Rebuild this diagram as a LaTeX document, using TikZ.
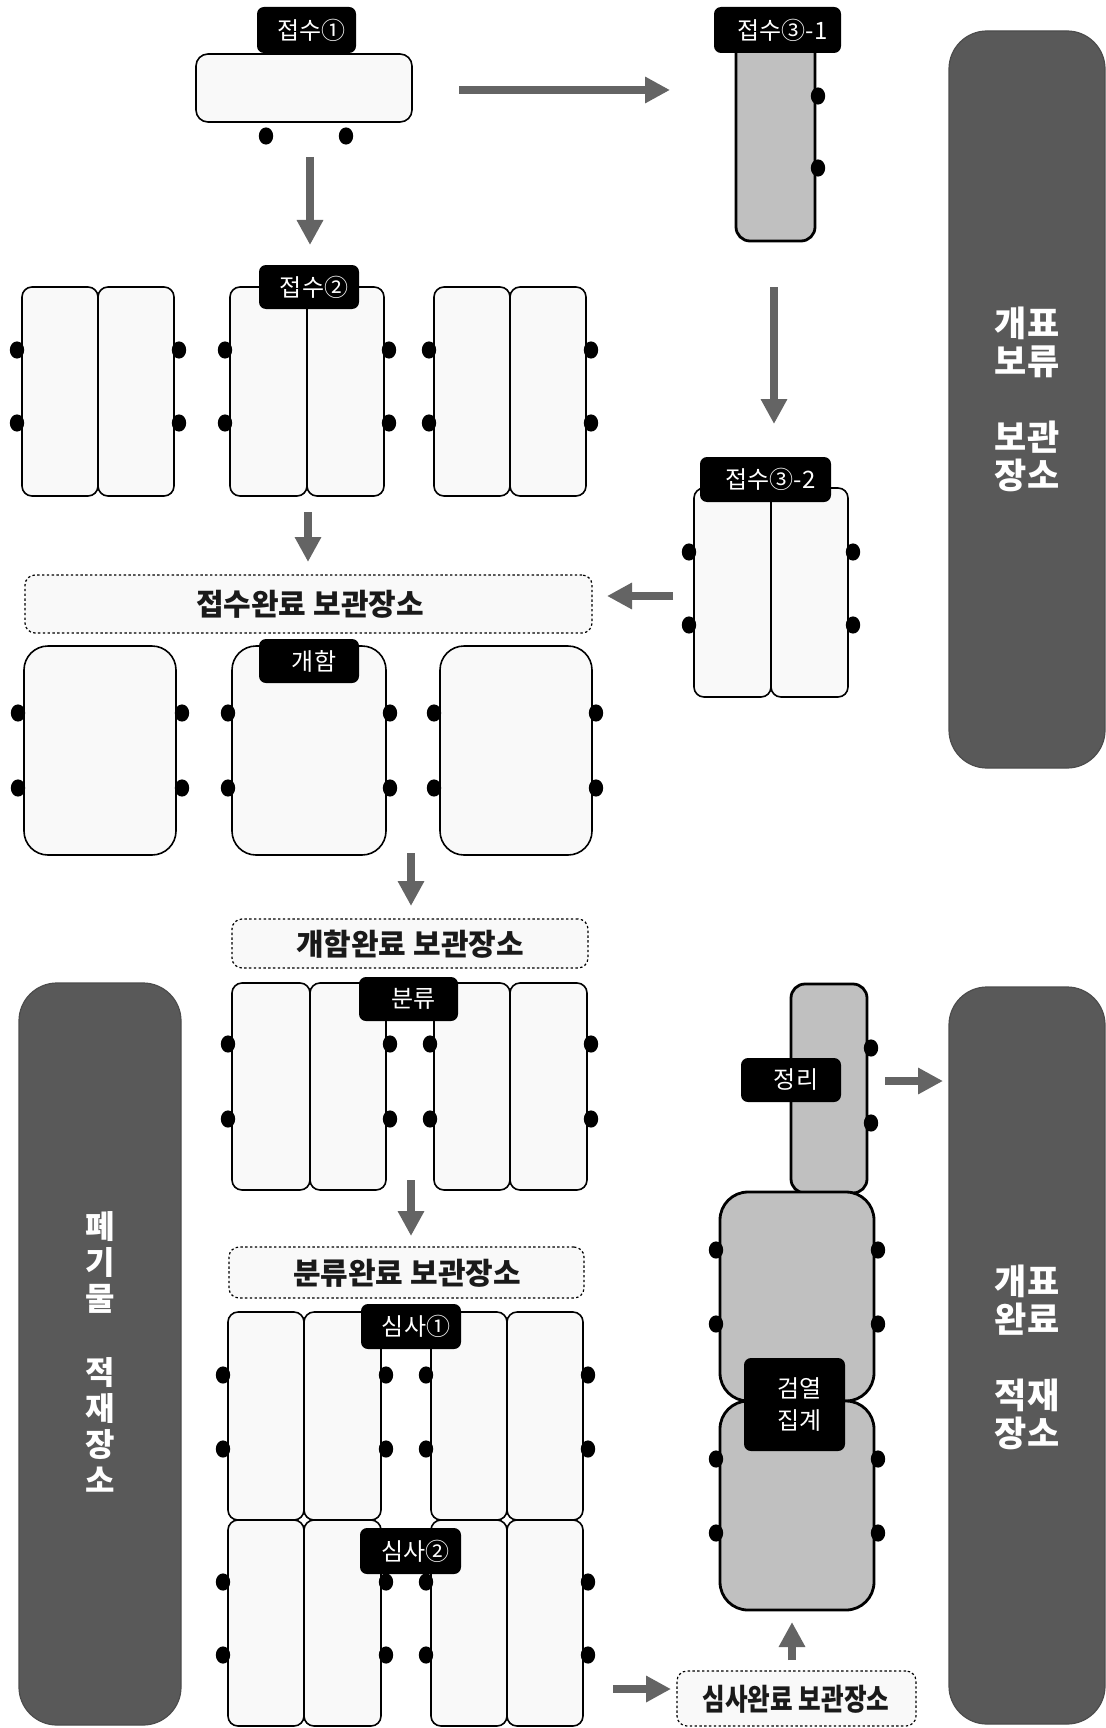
\documentclass[tikz,border=0pt]{standalone}
\usepackage{fontspec}
\setmainfont{Noto Sans CJK KR}
\usepackage{graphicx}
\usetikzlibrary{arrows.meta,fit}
\definecolor{lightfill}{HTML}{F9F9F9}
\definecolor{grayfill}{HTML}{C0C0C0}
\definecolor{darkfill}{HTML}{595959}
\definecolor{arrowgray}{HTML}{646464}
\definecolor{txtdark}{HTML}{1A1A1A}
\tikzset{
 lbox/.style={inner sep=0pt, draw=black, line width=0.8pt, fill=lightfill, rounded corners=5pt},
 lboxr/.style={lbox, rounded corners=12pt},
 gbox/.style={inner sep=0pt, draw=black, line width=1.4pt, fill=grayfill, rounded corners=7pt},
 gboxr/.style={gbox, rounded corners=14pt},
 dbox/.style={inner sep=0pt, draw=black!70, line width=0.6pt, fill=darkfill, rounded corners=19pt},
 dotbox/.style={inner sep=0pt, draw=black, line width=0.6pt, dash pattern=on 1.2pt off 1.2pt, fill=lightfill, rounded corners=5pt},
 labbox/.style={inner sep=0pt, fill=black, rounded corners=3.5pt},
 labtxt/.style={text=white, font=\fontsize{12pt}{16pt}\selectfont, inner sep=0pt, align=center},
 bigtxt/.style={text=white, font=\fontsize{17.5pt}{19pt}\selectfont\bfseries, align=center, inner sep=0pt},
 wastetxt/.style={text=white, font=\fontsize{16pt}{18pt}\selectfont\bfseries, align=center, inner sep=0pt},
 stotxt/.style={text=txtdark, font=\fontsize{15pt}{17pt}\selectfont\bfseries, inner sep=0pt},
 garrow/.style={draw=arrowgray, line width=4pt, -{Triangle[width=12.5pt,length=12.5pt]}},
}
\newcommand\bx[6]{\node[#1, fit={(#3,#4) (#5,#6)}] (#2) {};}
\newcommand\lbl[6]{\node[labbox, fit={(#2,#3) (#4,#5)}] (#1) {};
  \node[labtxt, xshift=2.5pt] (#1t) at (#1.center) {#6};}
\newcommand\mydot[2]{\fill (#1,#2) ellipse [x radius=3.6pt, y radius=4.3pt];}
\begin{document}
\begin{tikzpicture}[x=0.5pt,y=-0.5pt]
\fill[white] (0,0) rectangle (1106,1728);
\useasboundingbox (0,0) rectangle (1106,1728);

% dark storage areas
\bx{dbox}{d1}{949}{31}{1105}{768}
\bx{dbox}{d2}{19}{983}{181}{1725}
\bx{dbox}{d3}{949}{987}{1105}{1724}
\node[bigtxt] (d1t) at (1027,399) {개표\\보류\\[19pt]보관\\장소};
\node[wastetxt] (d2t) at (100,1352) {폐\\기\\물\\[19pt]적\\재\\장\\소};
\node[bigtxt] (d3t) at (1027,1357) {개표\\완료\\[19pt]적재\\장소};

% top
\bx{lbox, rounded corners=6pt}{r1}{196}{54}{412}{122}
\bx{gbox}{r31}{736}{30}{815}{241}
\mydot{266}{136}\mydot{346}{136}
\mydot{818}{96}\mydot{818}{168}

% 접수2 row
\bx{lbox}{p1a}{22}{287}{98}{496}\bx{lbox}{p1b}{98}{287}{174}{496}
\bx{lbox}{p2a}{230}{287}{307}{496}\bx{lbox}{p2b}{307}{287}{384}{496}
\bx{lbox}{p3a}{434}{287}{510}{496}\bx{lbox}{p3b}{510}{287}{586}{496}
\foreach \yy in {350,423}{\foreach \xx in {17,179,225,389,429,591}{\mydot{\xx}{\yy}}}

% 접수3-2
\bx{lbox}{q1}{694}{488}{771}{697}\bx{lbox}{q2}{771}{488}{848}{697}
\foreach \yy in {552,625}{\foreach \xx in {689,853}{\mydot{\xx}{\yy}}}

% 접수완료
\bx{dotbox}{s1}{25}{575}{592}{633}
\node[stotxt] (s1t) at (310,604) {접수완료 보관장소};

% 개함
\bx{lboxr}{k1}{24}{646}{176}{855}
\bx{lboxr}{k2}{232}{646}{386}{855}
\bx{lboxr}{k3}{440}{646}{592}{855}
\foreach \yy in {713,788}{\foreach \xx in {18,182,228,390,434,596}{\mydot{\xx}{\yy}}}

% 개함완료
\bx{dotbox}{s2}{232}{919}{588}{968}
\node[stotxt] (s2t) at (410,944) {개함완료 보관장소};

% 분류
\bx{lbox}{b1}{232}{983}{310}{1190}\bx{lbox}{b2}{310}{983}{386}{1190}
\bx{lbox}{b3}{434}{983}{510}{1190}\bx{lbox}{b4}{510}{983}{587}{1190}
\foreach \yy in {1044,1119}{\foreach \xx in {228,390,430,591}{\mydot{\xx}{\yy}}}

% 분류완료
\bx{dotbox}{s3}{229}{1247}{584}{1298}
\node[stotxt] (s3t) at (407,1273) {분류완료 보관장소};

% 심사1, 심사2
\bx{lbox}{c1}{228}{1312}{304}{1520}\bx{lbox}{c2}{304}{1312}{381}{1520}
\bx{lbox}{c3}{431}{1312}{507}{1520}\bx{lbox}{c4}{507}{1312}{583}{1520}
\bx{lbox}{e1}{228}{1520}{304}{1726}\bx{lbox}{e2}{304}{1520}{381}{1726}
\bx{lbox}{e3}{431}{1520}{507}{1726}\bx{lbox}{e4}{507}{1520}{583}{1726}
\foreach \yy in {1375,1449,1582,1655}{\foreach \xx in {223,386,426,588}{\mydot{\xx}{\yy}}}

% 심사완료
\bx{dotbox}{s4}{677}{1671}{916}{1726}
\node[stotxt] (s4t) at (796,1699) {\scalebox{0.82}[1]{심사완료 보관장소}};

% right column (정리, 검열)
\bx{gbox}{g0}{791}{984}{867}{1193}
\bx{gboxr}{g1}{720}{1192}{874}{1401}
\bx{gboxr}{g2}{720}{1401}{874}{1610}
\mydot{871}{1048}\mydot{871}{1123}
\foreach \yy in {1250,1324,1459,1533}{\foreach \xx in {716,878}{\mydot{\xx}{\yy}}}

% labels
\lbl{l1}{257}{7}{356}{53}{접수①}
\lbl{l31}{714}{7}{841}{53}{접수③-1}
\lbl{l2}{259}{265}{359}{309}{접수②}
\lbl{l32}{700}{457}{831}{502}{접수③-2}
\lbl{lk}{259}{639}{359}{683}{개함}
\lbl{lb}{359}{977}{458}{1021}{분류}
\lbl{lc1}{361}{1304}{461}{1349}{심사①}
\lbl{lc2}{360}{1528}{461}{1574}{심사②}
\lbl{lj}{741}{1058}{841}{1102}{정리}
\lbl{lg}{744}{1358}{845}{1451}{검열\\집계}

% arrows
\coordinate (a1s) at (310,157); \coordinate (a1e) at (310,245);
\coordinate (a2s) at (459,90);  \coordinate (a2e) at (670,90);
\coordinate (a3s) at (774,287); \coordinate (a3e) at (774,424);
\coordinate (a4s) at (308,512); \coordinate (a4e) at (308,562);
\coordinate (a5s) at (673,596); \coordinate (a5e) at (607,596);
\coordinate (a6s) at (411,853); \coordinate (a6e) at (411,906);
\coordinate (a7s) at (411,1180); \coordinate (a7e) at (411,1236);
\coordinate (a8s) at (613,1689); \coordinate (a8e) at (671,1689);
\coordinate (a9s) at (792,1660); \coordinate (a9e) at (792,1622);
\coordinate (a10s) at (885,1081); \coordinate (a10e) at (943,1081);
\foreach \i in {1,...,10}{\draw[garrow] (a\i s) -- (a\i e);}
\end{tikzpicture}
\end{document}
